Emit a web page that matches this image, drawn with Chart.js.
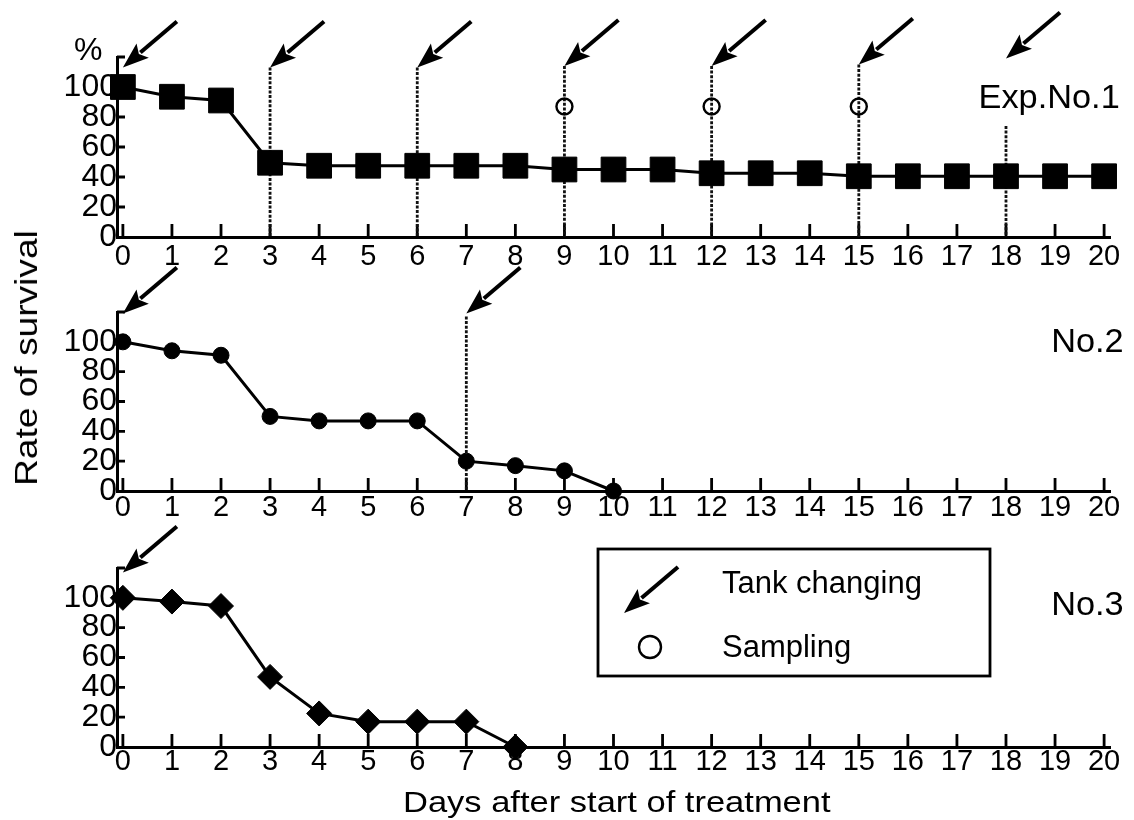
<!DOCTYPE html>
<html>
<head>
<meta charset="utf-8">
<title>Rate of survival</title>
<script src="https://cdn.jsdelivr.net/npm/chart.js@4.4.1/dist/chart.umd.min.js"></script>
<style>
  body { margin: 0; background: #fff; }
  #figure {
    position: relative;
    width: 1134px;
    height: 820px;
    overflow: hidden;
    font-family: "Liberation Sans", Arial, sans-serif;
    color: #000;
  }
  #figure canvas { position: absolute; left: 0; }
  .lbl { position: absolute; white-space: nowrap; line-height: 1; }
  #pctLabel { left: 74px; top: 33px; font-size: 32px; }
  #exp1Label { right: 14px; top: 80px; font-size: 33px; transform: scaleX(1.04); transform-origin: right; }
  #exp2Label { right: 10px; top: 324px; font-size: 33px; transform: scaleX(1.04); transform-origin: right; }
  #exp3Label { right: 10px; top: 587px; font-size: 33px; transform: scaleX(1.04); transform-origin: right; }
  #tankLabel { left: 722px; top: 567px; font-size: 31px; }
  #samplingLabel { left: 722px; top: 631px; font-size: 31px; }
  #xTitle {
    left: 403px; top: 787px; font-size: 30px;
    transform: scaleX(1.15); transform-origin: left;
  }
  #yTitle {
    left: 26px; top: 358px; font-size: 32px;
    transform: translate(-50%, -50%) rotate(-90deg) scaleX(1.16);
  }
</style>
</head>
<body>
<div id="figure">
  <canvas id="exp1Chart" width="1134" height="270" style="top:0px"></canvas>
  <canvas id="exp2Chart" width="1134" height="268" style="top:262px"></canvas>
  <canvas id="exp3Chart" width="1134" height="300" style="top:520px"></canvas>
  <div class="lbl" id="pctLabel">%</div>
  <div class="lbl" id="exp1Label">Exp.No.1</div>
  <div class="lbl" id="exp2Label">No.2</div>
  <div class="lbl" id="exp3Label">No.3</div>
  <div class="lbl" id="tankLabel">Tank changing</div>
  <div class="lbl" id="samplingLabel">Sampling</div>
  <div class="lbl" id="xTitle">Days after start of treatment</div>
  <div class="lbl" id="yTitle">Rate of survival</div>
</div>
<script>
// Axis ticks
const dayTicks = [0, 1, 2, 3, 4, 5, 6, 7, 8, 9, 10, 11, 12, 13, 14, 15, 16, 17, 18, 19, 20];
const rateTicks = [0, 20, 40, 60, 80, 100];
const rateTickMarks = [20, 40, 60, 80, 100, 120];

// Survival rate (%) per day
const exp1Rate = [100, 93.5, 91, 49.5, 47.5, 47.5, 47.5, 47.5, 47.5, 45, 45, 45, 42.5, 42.5, 42.5, 40.5, 40.5, 40.5, 40.5, 40.5, 40.5];
const exp2Rate = [100, 94, 91, 50, 47, 47, 47, 20, 17, 13.5, 0];
const exp3Rate = [100, 97.5, 94.5, 47, 22.5, 17, 17, 17, 0];

// Tank changing (arrows) and the dotted guide lines under them
const exp1TankDays = [0, 3, 6, 9, 12, 15, 18];
const exp1TankTip = [113, 113, 113, 114, 114, 115, 119];
const exp1GuideDays = [3, 6, 9, 12, 15, 18];
const exp1GuideTop = [113, 113, 114, 114, 115, 74];
const exp2TankDays = [0, 7];
const exp2TankTip = [119, 119];
const exp2GuideDays = [7];
const exp2GuideTop = [117];
const exp3TankDays = [0];
const exp3TankTip = [117];

// Sampling (open circles)
const exp1SamplingDays = [9, 12, 15];
const exp1SamplingRate = [87, 87, 87];

const FONT = "'Liberation Sans', Arial, sans-serif";
const ARROW_DX = 54;
const ARROW_DY = -46;

function toPoints(values, xs) {
  return values.map((v, i) => ({ x: xs[i], y: v }));
}

function drawArrow(ctx, tipX, tipY) {
  const tailX = tipX + ARROW_DX;
  const tailY = tipY + ARROW_DY;
  const ang = Math.atan2(tipY - tailY, tipX - tailX);
  const headLen = 26;
  const headW = 9.5;
  const bx = tipX - headLen * Math.cos(ang);
  const by = tipY - headLen * Math.sin(ang);
  ctx.lineWidth = 4;
  ctx.lineCap = "butt";
  ctx.beginPath();
  ctx.moveTo(tailX, tailY);
  ctx.lineTo(bx + 3 * Math.cos(ang), by + 3 * Math.sin(ang));
  ctx.stroke();
  ctx.beginPath();
  ctx.moveTo(tipX, tipY);
  ctx.lineTo(bx + headW * Math.sin(ang), by - headW * Math.cos(ang));
  ctx.lineTo(bx + 5 * Math.cos(ang), by + 5 * Math.sin(ang));
  ctx.lineTo(bx - headW * Math.sin(ang), by + headW * Math.cos(ang));
  ctx.closePath();
  ctx.fill();
}

function decorPlugin(decor) {
  return {
    id: "decor",
    beforeDatasetsDraw(chart) {
      const { ctx, chartArea, scales: { x, y } } = chart;
      ctx.save();
      ctx.strokeStyle = "#000";
      ctx.lineWidth = 2.8;
      // inward tick marks
      ctx.beginPath();
      dayTicks.forEach((d) => {
        const px = x.getPixelForValue(d);
        ctx.moveTo(px, chartArea.bottom);
        ctx.lineTo(px, chartArea.bottom - 13);
      });
      rateTickMarks.forEach((r) => {
        const py = y.getPixelForValue(r);
        ctx.moveTo(chartArea.left, py);
        ctx.lineTo(chartArea.left + 8, py);
      });
      ctx.stroke();
      // dotted guides
      ctx.setLineDash([3, 1.6]);
      ctx.lineWidth = 2.8;
      ctx.strokeStyle = "#111";
      decor.guideDays.forEach((d, i) => {
        const px = x.getPixelForValue(d);
        ctx.beginPath();
        ctx.moveTo(px, y.getPixelForValue(decor.guideTop[i]));
        ctx.lineTo(px, y.getPixelForValue(0));
        ctx.stroke();
      });
      ctx.restore();
    },
    afterDraw(chart) {
      const { ctx, scales: { x, y } } = chart;
      ctx.save();
      ctx.strokeStyle = "#000";
      ctx.fillStyle = "#000";
      decor.tankDays.forEach((d, i) => {
        drawArrow(ctx, x.getPixelForValue(d), y.getPixelForValue(decor.tankTip[i]));
      });
      if (decor.legend) {
        // legend box (page position 598,549 -> canvas top 520)
        ctx.lineWidth = 2.8;
        ctx.strokeRect(598, 29, 392, 127);
        drawArrow(ctx, 624, 93);
        ctx.lineWidth = 2.4;
        ctx.beginPath();
        ctx.arc(650, 127, 11, 0, Math.PI * 2);
        ctx.stroke();
      }
      ctx.restore();
    },
  };
}

function makePanel(id, box, datasets, decor) {
  const canvas = document.getElementById(id);
  return new Chart(canvas, {
    type: "line",
    data: { datasets: datasets },
    options: {
      responsive: false,
      animation: false,
      events: [],
      layout: { padding: { top: box.top, right: 24, left: 0, bottom: 0 } },
      plugins: {
        legend: { display: false },
        tooltip: { enabled: false },
      },
      scales: {
        x: {
          type: "linear",
          min: -0.12,
          max: 20.12,
          afterBuildTicks: (s) => {
            s.ticks = dayTicks.map((v) => ({ value: v }));
          },
          afterFit: (s) => {
            s.height = box.height - box.bottom;
          },
          grid: { drawOnChartArea: false, drawTicks: false },
          border: { display: true, color: "#000", width: 3 },
          ticks: {
            autoSkip: false,
            maxRotation: 0,
            padding: box.labelPad,
            color: "#000",
            font: { family: FONT, size: 29, lineHeight: 1 },
          },
        },
        y: {
          type: "linear",
          min: 0,
          max: 120,
          afterBuildTicks: (s) => {
            s.ticks = rateTicks.map((v) => ({ value: v }));
          },
          afterFit: (s) => {
            s.width = 117;
          },
          grid: { drawOnChartArea: false, drawTicks: false },
          border: { display: true, color: "#000", width: 3 },
          ticks: {
            padding: 0,
            color: "#000",
            font: { family: FONT, size: 32, lineHeight: 1 },
          },
        },
      },
    },
    plugins: [decorPlugin(decor)],
  });
}

function seriesStyle(pointStyle, radius) {
  return {
    borderColor: "#000",
    backgroundColor: "#000",
    borderWidth: 3,
    pointStyle: pointStyle,
    pointRadius: radius,
    pointBorderWidth: 1,
    tension: 0,
    clip: false,
  };
}

// Exp.No.1
makePanel(
  "exp1Chart",
  { top: 57, bottom: 237, height: 270, labelPad: 5 },
  [
    Object.assign({ label: "Exp.No.1", data: toPoints(exp1Rate, dayTicks) }, seriesStyle("rect", 17.5)),
    {
      label: "Sampling",
      data: toPoints(exp1SamplingRate, exp1SamplingDays),
      showLine: false,
      pointStyle: "circle",
      pointRadius: 8,
      pointBorderWidth: 2.4,
      borderColor: "#000",
      backgroundColor: "rgba(0,0,0,0)",
      clip: false,
    },
  ],
  { tankDays: exp1TankDays, tankTip: exp1TankTip, guideDays: exp1GuideDays, guideTop: exp1GuideTop }
);

// No.2
makePanel(
  "exp2Chart",
  { top: 50, bottom: 229, height: 268, labelPad: 2 },
  [Object.assign({ label: "No.2", data: toPoints(exp2Rate, dayTicks) }, seriesStyle("circle", 8))],
  { tankDays: exp2TankDays, tankTip: exp2TankTip, guideDays: exp2GuideDays, guideTop: exp2GuideTop }
);

// No.3
makePanel(
  "exp3Chart",
  { top: 48, bottom: 227, height: 300, labelPad: 0 },
  [Object.assign({ label: "No.3", data: toPoints(exp3Rate, dayTicks) }, seriesStyle("rectRot", 12.5))],
  { tankDays: exp3TankDays, tankTip: exp3TankTip, guideDays: [], guideTop: [], legend: true }
);
</script>
</body>
</html>
